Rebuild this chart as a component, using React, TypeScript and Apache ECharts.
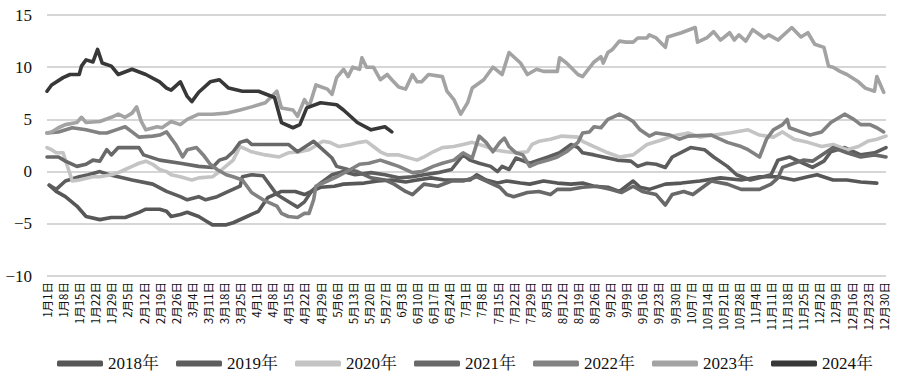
import React, { useEffect, useRef } from "react";
import * as echarts from "echarts";

const seriesNames = ["2018年", "2019年", "2020年", "2021年", "2022年", "2023年", "2024年"];
const seriesColors = ["#575757", "#5d5d5d", "#c4c4c4", "#686868", "#828282", "#a3a3a3", "#383838"];
const yTicks = { min: -10, max: 15, interval: 5 };

// [day of year index (0 = 1月1日), value]
const s2018: [number, number][] = [
  [1, -1.3], [4, -1.9], [8, -2.4], [13, -3.3], [17, -4.3], [23, -4.6], [28, -4.4], [34, -4.4], [40, -3.9], [43, -3.6],
  [49, -3.6], [52, -3.8], [54, -4.3], [58, -4.1], [61, -3.9], [66, -4.3], [69, -4.7], [72, -5.1], [78, -5.1], [81, -4.9],
  [87, -4.3], [92, -3.8], [96, -2.5], [102, -1.9], [108, -1.9], [112, -2.2], [119, -1.5], [125, -1.4], [129, -1.2], [138, -1.1],
  [144, -0.9], [150, -0.8], [156, -1.0], [161, -0.8], [167, -0.6], [173, -0.8], [184, -0.8], [187, -0.3], [191, -0.8], [196, -1.1],
  [200, -0.9], [206, -1.1], [210, -1.2], [216, -0.9], [222, -1.1], [228, -1.2], [233, -1.1], [238, -1.4], [244, -1.5], [249, -1.9],
  [255, -0.9], [258, -1.5], [262, -1.7], [269, -1.2], [276, -1.1], [284, -0.9], [293, -0.6], [302, -0.8], [310, -0.5], [318, -0.5],
  [325, -0.8], [331, -0.5], [335, -0.3], [342, -0.8], [348, -0.8], [354, -1.0], [361, -1.1],
];

const s2019: [number, number][] = [
  [1, -1.3], [4, -1.7], [8, -0.9], [14, -0.5], [18, -0.3], [23, 0.0], [27, -0.3], [31, -0.5], [37, -0.8], [46, -1.2],
  [52, -1.9], [58, -2.4], [61, -2.7], [66, -2.4], [69, -2.7], [74, -2.4], [78, -2.0], [84, -1.4], [85, -0.5], [89, -0.3],
  [94, -0.4], [100, -2.2], [106, -3.0], [109, -3.4], [112, -2.9], [115, -1.9], [119, -1.1], [124, -0.3], [129, 0.0], [134, -0.3],
  [141, -0.1], [147, -0.3], [153, -0.6], [159, -0.5], [164, -0.3], [170, -0.1], [176, 0.2], [181, 1.6], [184, 1.1], [188, 0.8],
  [193, 0.5], [196, 0.0], [198, 0.5], [201, 0.2], [204, 1.3], [210, 0.8], [218, 1.4], [223, 1.8], [228, 2.6], [231, 2.3],
  [233, 1.8], [238, 1.6], [244, 1.3], [248, 1.1], [254, 1.0], [257, 0.5], [261, 0.8], [265, 0.7], [269, 0.4], [272, 1.4],
  [280, 2.3], [286, 2.1], [290, 1.4], [296, 0.5], [300, -0.3], [306, -0.8], [310, -0.6], [315, -0.3], [318, 1.1], [323, 1.4],
  [329, 0.8], [333, 0.4], [338, 1.0], [341, 1.9], [347, 2.3], [354, 1.6], [360, 1.8], [365, 2.3],
];

const s2020: [number, number][] = [
  [0, 2.3], [2, 2.1], [4, 1.8], [7, 1.8], [8, 1.1], [11, -0.9], [14, -0.8], [20, -0.5], [23, -0.5], [28, -0.3],
  [31, -0.1], [34, 0.2], [37, 0.5], [40, 0.8], [43, 1.0], [46, 0.7], [49, 0.2], [52, 0.0], [54, -0.3], [58, -0.5],
  [63, -0.8], [66, -0.6], [72, -0.5], [75, 0.0], [81, 1.1], [84, 2.4], [87, 2.1], [89, 1.9], [95, 1.6], [101, 1.4],
  [105, 1.8], [110, 1.9], [114, 2.1], [120, 2.9], [123, 2.8], [127, 2.4], [132, 2.6], [136, 2.8], [139, 2.9], [142, 2.4],
  [145, 1.9], [148, 1.6], [153, 1.6], [161, 1.1], [164, 1.4], [168, 1.9], [172, 2.3], [177, 2.4], [181, 2.6], [185, 2.8],
  [191, 2.4], [194, 2.1], [200, 1.9], [204, 1.8], [209, 1.9], [211, 2.6], [214, 2.9], [219, 3.1], [224, 3.4], [231, 3.3],
  [233, 2.9], [238, 2.4], [244, 1.8], [249, 1.4], [255, 1.6], [261, 2.6], [267, 3.0], [272, 3.4], [279, 3.7], [284, 3.3],
  [290, 3.5], [297, 3.7], [305, 4.0], [310, 3.5], [316, 3.3], [320, 3.8], [325, 3.1], [331, 2.8], [337, 2.4], [342, 2.6],
  [348, 2.1], [353, 2.4], [357, 2.9], [361, 3.1], [365, 3.4],
];

const s2021: [number, number][] = [
  [0, 1.4], [5, 1.4], [8, 1.0], [13, 0.5], [17, 0.7], [20, 1.1], [23, 1.0], [26, 2.1], [28, 1.6], [31, 2.3],
  [40, 2.3], [42, 1.6], [49, 1.1], [58, 0.8], [66, 0.5], [72, 0.4], [75, 1.1], [78, 1.3], [81, 1.9], [84, 2.8],
  [87, 3.0], [89, 2.6], [95, 2.6], [105, 2.6], [109, 1.9], [116, 2.9], [119, 2.3], [124, 1.3], [126, 0.5], [131, 0.2],
  [135, 0.0], [141, -0.6], [147, -0.8], [151, -1.2], [156, -1.9], [159, -2.2], [164, -1.2], [170, -1.4], [176, -0.9], [181, -0.9],
  [187, -0.5], [193, -1.1], [197, -1.5], [200, -2.2], [203, -2.4], [209, -2.0], [214, -1.9], [219, -2.2], [222, -1.7], [228, -1.7],
  [233, -1.5], [239, -1.4], [245, -1.7], [250, -2.0], [255, -1.4], [259, -1.9], [265, -2.2], [269, -3.2], [272, -2.2], [277, -1.9],
  [281, -2.2], [289, -0.9], [296, -1.2], [302, -1.7], [310, -1.7], [315, -1.2], [318, -0.6], [320, 0.4], [325, 0.8], [329, 1.1],
  [333, 1.0], [342, 2.3], [348, 1.8], [354, 1.4], [360, 1.6], [365, 1.4],
];

const s2022: [number, number][] = [
  [0, 3.7], [5, 3.8], [11, 4.2], [17, 4.0], [23, 3.7], [26, 3.7], [30, 4.0], [34, 4.3], [37, 3.8], [40, 3.3],
  [46, 3.4], [49, 3.5], [52, 3.8], [56, 2.6], [59, 1.4], [61, 2.1], [65, 2.3], [68, 1.6], [71, 0.7], [74, 0.2],
  [78, -0.3], [81, -0.5], [85, -0.8], [89, -2.0], [94, -2.7], [100, -3.3], [102, -4.0], [105, -4.3], [109, -4.4], [112, -4.0],
  [114, -4.0], [116, -2.7], [117, -1.4], [122, -0.9], [126, -0.5], [132, 0.2], [136, 0.7], [140, 0.8], [145, 1.1], [149, 0.8],
  [153, 0.5], [159, -0.1], [163, 0.0], [168, 0.5], [172, 0.8], [177, 1.1], [181, 1.8], [185, 1.3], [188, 3.4], [191, 2.8],
  [194, 1.9], [197, 2.8], [199, 3.2], [201, 2.4], [204, 1.8], [207, 1.6], [210, 0.5], [213, 0.8], [218, 1.1], [222, 1.4],
  [226, 1.9], [231, 2.8], [233, 3.7], [236, 3.8], [238, 4.3], [241, 4.2], [244, 5.0], [246, 5.2], [249, 5.5], [252, 5.2],
  [255, 4.8], [258, 4.0], [262, 3.4], [265, 3.7], [271, 3.5], [275, 3.1], [279, 3.4], [289, 3.5], [296, 2.8], [302, 2.4],
  [305, 2.1], [310, 1.4], [313, 3.1], [316, 4.0], [320, 4.5], [322, 5.0], [323, 4.2], [328, 3.8], [332, 3.5], [337, 3.8],
  [341, 4.7], [347, 5.5], [351, 5.0], [354, 4.5], [358, 4.5], [361, 4.2], [364, 3.8],
];

const s2023: [number, number][] = [
  [0, 3.7], [2, 3.8], [5, 4.2], [8, 4.5], [13, 4.7], [15, 5.2], [17, 4.7], [23, 4.8], [28, 5.2], [31, 5.5],
  [34, 5.2], [37, 5.6], [39, 6.2], [41, 4.8], [43, 4.0], [48, 4.3], [50, 4.2], [54, 4.8], [58, 4.5], [61, 5.0],
  [66, 5.5], [72, 5.5], [78, 5.6], [84, 5.9], [89, 6.2], [95, 6.6], [100, 7.7], [102, 6.1], [107, 5.9], [109, 5.3],
  [112, 6.9], [114, 6.2], [117, 8.3], [122, 7.9], [124, 7.4], [126, 9.0], [129, 9.8], [131, 9.1], [133, 10.0], [136, 9.8],
  [137, 10.9], [139, 10.0], [142, 10.0], [145, 8.8], [148, 9.3], [150, 8.8], [153, 8.1], [156, 7.9], [159, 9.3], [161, 8.6],
  [163, 8.6], [166, 9.3], [172, 9.1], [174, 7.7], [177, 6.9], [180, 5.5], [183, 6.6], [185, 8.0], [190, 8.8], [194, 10.0],
  [198, 9.3], [201, 11.4], [206, 10.4], [209, 9.3], [213, 9.8], [216, 9.6], [222, 9.6], [223, 10.9], [226, 10.4], [231, 9.3],
  [233, 9.1], [238, 10.5], [241, 11.0], [242, 10.4], [244, 11.4], [246, 11.7], [249, 12.5], [252, 12.4], [255, 12.4], [257, 12.8],
  [261, 12.8], [262, 13.1], [265, 12.8], [269, 11.9], [270, 12.9], [276, 13.3], [282, 13.8], [283, 12.4], [287, 12.8], [290, 13.4],
  [293, 12.6], [297, 13.3], [299, 12.6], [301, 13.1], [304, 12.5], [307, 13.6], [312, 12.8], [314, 13.1], [318, 12.6], [324, 13.8],
  [328, 12.9], [331, 13.3], [334, 12.2], [338, 11.9], [340, 10.1], [342, 10.0], [345, 9.6], [348, 9.3], [353, 8.6], [356, 8.0],
  [360, 7.7], [361, 9.1], [364, 7.6],
];

const s2024: [number, number][] = [
  [0, 7.7], [2, 8.3], [7, 9.0], [10, 9.3], [14, 9.3], [15, 10.1], [17, 10.7], [20, 10.5], [22, 11.7], [24, 10.4],
  [28, 10.1], [31, 9.3], [37, 9.8], [43, 9.3], [49, 8.6], [52, 8.0], [54, 7.8], [58, 8.6], [61, 7.2], [63, 6.7],
  [66, 7.6], [71, 8.6], [75, 8.8], [79, 8.0], [85, 7.7], [92, 7.7], [99, 7.1], [102, 4.7], [107, 4.2], [110, 4.5],
  [113, 6.1], [119, 6.6], [126, 6.4], [129, 5.9], [135, 4.7], [141, 4.0], [147, 4.3], [150, 3.8],
];

const seriesData = [s2018, s2019, s2020, s2021, s2022, s2023, s2024];

function buildDates(): string[] {
  const out: string[] = [];
  const d = new Date(2024, 0, 1);
  while (d.getFullYear() === 2024) {
    out.push(`${d.getMonth() + 1}月${d.getDate()}日`);
    d.setDate(d.getDate() + 1);
  }
  return out;
}
const dateCategories = buildDates();

const serif = "'Liberation Serif', 'Noto Serif CJK SC', 'Noto Sans CJK SC', serif";

export default function App() {
  const ref = useRef<HTMLDivElement>(null);
  useEffect(() => {
    document.body.style.margin = "0";
    const chart = echarts.init(ref.current!, null, { renderer: "svg" });
    chart.setOption({
      animation: false,
      backgroundColor: "#ffffff",
      grid: { left: 47, right: 14, top: 15, bottom: 102, containLabel: false, outerBoundsMode: "none" },
      legend: {
        left: 52,
        top: 350,
        icon: "roundRect",
        itemWidth: 46,
        itemHeight: 6,
        itemGap: 17,
        textStyle: { fontFamily: serif, fontSize: 17, color: "#111" },
        data: seriesNames,
      },
      xAxis: {
        type: "category",
        boundaryGap: false,
        data: dateCategories,
        axisLine: { show: false },
        axisTick: { show: false },
        splitLine: { show: false },
        axisLabel: {
          interval: 6,
          rotate: 90,
          margin: 6,
          fontSize: 11.5,
          color: "#111",
          fontFamily: "'Noto Sans CJK SC', sans-serif",
        },
      },
      yAxis: {
        type: "value",
        min: yTicks.min,
        max: yTicks.max,
        interval: yTicks.interval,
        axisLine: { show: false },
        axisTick: { show: false },
        splitLine: { lineStyle: { color: "#c8c8c8", width: 1.6 } },
        axisLabel: {
          margin: 15,
          fontSize: 17,
          color: "#111",
          fontFamily: serif,
          formatter: (v: number) => String(v).replace("-", "−"),
        },
      },
      series: seriesNames.map((name, i) => ({
        name,
        type: "line",
        data: seriesData[i],
        showSymbol: false,
        symbol: "none",
        color: seriesColors[i],
        lineStyle: { width: 3.6, color: seriesColors[i], join: "round", cap: "round" },
        z: 2 + i,
      })),
    });
    return () => chart.dispose();
  }, []);
  return <div ref={ref} style={{ width: 900, height: 378 }} />;
}
